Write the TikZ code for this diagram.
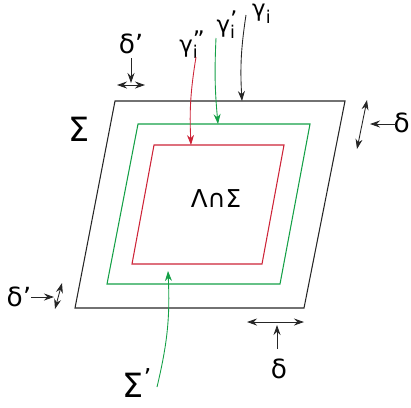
\documentclass[tikz,border=0pt]{standalone}
\usepackage{fontspec}
\setmainfont{DejaVu Sans}
\usetikzlibrary{arrows.meta}
\definecolor{setgreen}{RGB}{20,160,70}
\definecolor{setred}{RGB}{205,35,55}
\newcommand{\subi}[1]{γ\rlap{\raisebox{-0.55ex}{\fontsize{10}{10}\selectfont i}}\raisebox{0.35ex}{#1}}
\tikzset{
 region/.style={line width=0.6pt},
 pointer/.style={-{Stealth[length=2mm,width=1.4mm]}, line width=0.5pt},
 span/.style={{Stealth[length=2mm,width=1.4mm]}-{Stealth[length=2mm,width=1.4mm]}, line width=0.5pt},
 biglabel/.style={font=\fontsize{19}{21}\selectfont, inner sep=0pt},
 smalllabel/.style={font=\fontsize{15}{17}\selectfont, inner sep=0pt},
 curvelabel/.style={font=\fontsize{13}{15}\selectfont, inner sep=0pt}
}

\begin{document}
\begin{tikzpicture}[x=0.2mm, y=-0.2mm]
 \useasboundingbox (0,0) rectangle (411,407);
 % nested regions
 \draw[region, black!85] (115,101) coordinate (sTL) -- (345,101) -- (304,308) -- (75,308) -- cycle;
 \draw[region, setgreen] (138,124) coordinate (gTL) -- (310,124) -- (280,284) -- (107,284) coordinate (gBL) -- cycle;
 \draw[region, setred] (154,145) coordinate (rTL) -- (284,145) -- (262,264) -- (132,264) -- cycle;
 \node[biglabel] (sigma) at (79,129) {Σ};
 \node[font=\fontsize{14}{16}\selectfont, inner sep=0pt] (cap) at (216,199) {Λ∩Σ};
 % curves entering the regions
 \node[curvelabel, anchor=north] (gam) at (259,4) {\subi{}};
 \node[curvelabel] (gamone) at (227,25) {\subi{'}};
 \node[curvelabel] (gamtwo) at (192,45) {\subi{''}};
 \coordinate (gamend) at (242,101);
 \coordinate (gamoneend) at (218,124);
 \coordinate (gamtwoend) at (191,145);
 \draw[pointer, black!85] (246,15) to[bend right=6] (gamend);
 \draw[pointer, setgreen] (216,38) to[bend right=4] (gamoneend);
 \draw[pointer, setred] (196,57) to[bend right=6] (gamtwoend);
 % Sigma prime
 \node[biglabel] (sigmap) at (137,383) {Σ\raisebox{0.6ex}{\fontsize{14}{14}\selectfont '}};
 \coordinate (sigmapend) at (168,271);
 \draw[pointer, setgreen] (157,387) to[bend right=8] (sigmapend);
 % widths
 \node[smalllabel] (dtop) at (131,44) {δ'};
 \coordinate (dtopa) at (117,85);
 \coordinate (dtopb) at (145,85);
 \draw[span, black!85] (dtopa) -- (dtopb);
 \draw[pointer, black!85] (131,58) -- (131,83);
 \node[smalllabel, anchor=east] (dright) at (410,123) {δ};
 \coordinate (drighta) at (367,100);
 \coordinate (drightb) at (357,149);
 \draw[span, black!85] (drighta) -- (drightb);
 \draw[pointer, black!85] (396,124) -- (370,124);
 \node[smalllabel] (dleft) at (19,297) {δ'};
 \coordinate (dlefta) at (62,283);
 \coordinate (dleftb) at (55,309);
 \draw[span, black!85] (dlefta) -- (dleftb);
 \draw[pointer, black!85] (31,297) -- (54,297);
 \node[smalllabel] (dbot) at (279,369) {δ};
 \coordinate (dbota) at (247,322);
 \coordinate (dbotb) at (304,322);
 \draw[span, black!85] (dbota) -- (dbotb);
 \draw[pointer, black!85] (277,349) -- (277,325);
\end{tikzpicture}
\end{document}
